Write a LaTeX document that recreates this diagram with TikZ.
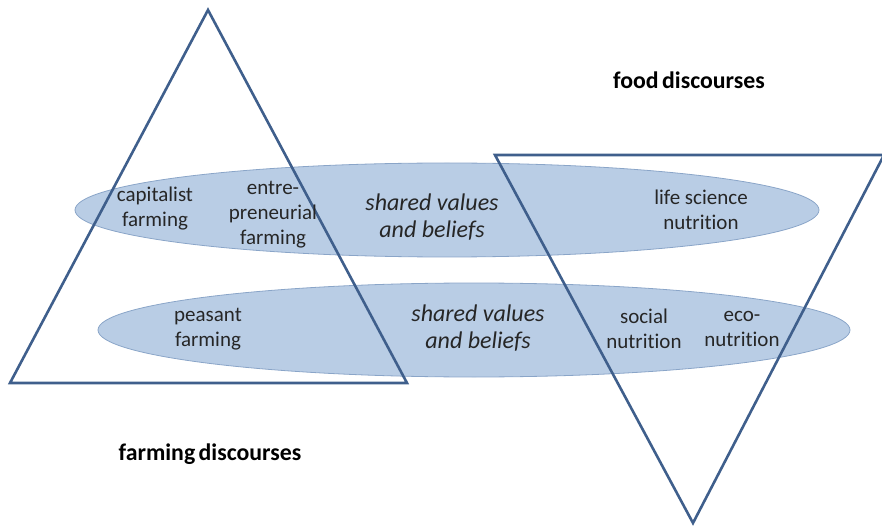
\documentclass[tikz,border=0pt]{standalone}
\usepackage{fontspec}
\setmainfont{Carlito}[Ligatures=NoCommon]
\usetikzlibrary{shapes.geometric, positioning}
\definecolor{bandfill}{HTML}{B9CDE5}
\definecolor{banddraw}{HTML}{8AA5C8}
\definecolor{triline}{HTML}{3F5F8C}
\definecolor{textgrey}{HTML}{262626}
\tikzset{
band/.style={shape=ellipse, fill=bandfill, draw=banddraw, line width=0.8pt, inner sep=0},
term/.style={align=center, text=textgrey, font=\fontsize{21}{25}\selectfont, inner sep=0},
shared/.style={term, font=\fontsize{24}{27}\selectfont\itshape},
heading/.style={text=black, font=\fontsize{23.8}{28}\selectfont\bfseries, inner sep=0},
tri/.style={draw=triline, line width=2.6pt, line join=miter}}

\begin{document}
\begin{tikzpicture}[x=1pt, y=-1pt]
\useasboundingbox (0,0) rectangle (882,526);
% the two bands
\node [band, minimum width=744pt, minimum height=94pt] at (447,210) (band-top) {};
\node [band, minimum width=752pt, minimum height=94pt] at (474,330) (band-bot) {};
% farming triangle, pointing up
\coordinate (farm-apex) at (208,10);
\coordinate (farm-left) at (10,383);
\coordinate (farm-right) at (407,383);
\draw [tri] (farm-apex) -- (farm-left) -- (farm-right) -- cycle;
% food triangle, pointing down
\coordinate (food-left) at (495,155);
\coordinate (food-right) at (884,155);
\coordinate (food-apex) at (693,523);
\draw [tri] (food-left) -- (food-right) -- (food-apex) -- cycle;
% texts in the upper band
\node [term] at (155,209) (capitalist) {capitalist\\farming};
\node [term] at (273,215) (entre) {entre-\\preneurial\\farming};
\node [shared] at (432,217) (shared-top) {shared values\\and beliefs};
\node [term] at (701,210) (lifesci) {life science\\nutrition};
% texts in the lower band
\node [term] at (208,329) (peasant) {peasant\\farming};
\node [shared] at (478,328) (shared-bot) {shared values\\and beliefs};
\node [term] at (644,329) (social) {social\\nutrition};
\node [term] at (742,329) (eco) {eco-\\nutrition};
% headings
\node [heading] at (689,80) (food) {food\hspace{-2pt} discourses};
\node [heading] at (210,454) (farming) {farming\hspace{-2pt} discourses};
\end{tikzpicture}
\end{document}
